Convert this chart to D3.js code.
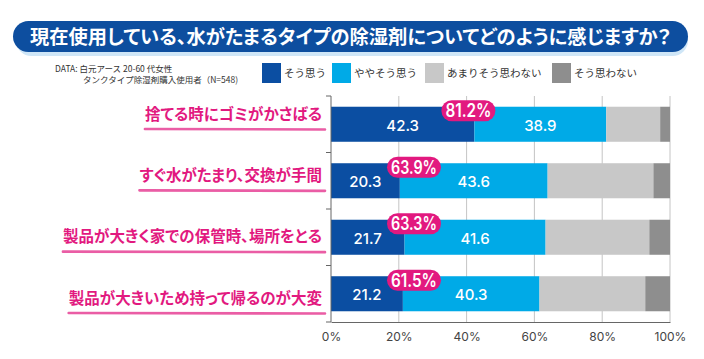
<!DOCTYPE html>
<html><head><meta charset="utf-8">
<script src="https://cdn.jsdelivr.net/npm/d3@7"></script>
<style>
body{margin:0;background:#fff;}
svg{display:block;font-family:"Noto Sans CJK JP","Noto Sans",sans-serif;}
.palt{font-feature-settings:"palt";}
</style></head>
<body>
<script>
const title = "現在使用している、水がたまるタイプの除湿剤についてどのように感じますか？";
const sourceLines = ["DATA: 白元アース 20-60 代女性", "タンクタイプ除湿剤購入使用者（N=548)"];
const categories = ["捨てる時にゴミがかさばる","すぐ水がたまり、交換が手間","製品が大きく家での保管時、場所をとる","製品が大きいため持って帰るのが大変"];
const seriesNames = ["そう思う","ややそう思う","あまりそう思わない","そう思わない"];
const s1 = [42.3, 20.3, 21.7, 21.2];
const s2 = [38.9, 43.6, 41.6, 40.3];
const s3 = [15.9, 31.2, 30.6, 31.2];
const s4 = [2.9, 4.9, 6.1, 7.3];
const totals = ["81.2%","63.9%","63.3%","61.5%"];
const xTicks = [0,20,40,60,80,100];
const colors = ["#0b4ea2","#00aae7","#c8c8c8","#8e8e8e"];
const magenta = "#e2197f";

const W=704,H=359;
const svg=d3.select("body").append("svg").attr("width",W).attr("height",H);

// title banner
svg.append("rect").attr("x",16).attr("y",25).attr("width",672).attr("height",31).attr("rx",15.5).attr("fill","#cfe6f7");
svg.append("rect").attr("x",13).attr("y",21).attr("width",675).attr("height",31).attr("rx",15.5).attr("fill","#0d4e9f");
svg.append("text").attr("class","palt").attr("x",30).attr("y",43.5).attr("fill","#fff").attr("font-size",19).attr("font-weight","bold")
  .attr("textLength",641).attr("lengthAdjust","spacingAndGlyphs").text(title);

// source
svg.append("text").attr("x",55).attr("y",72).attr("font-size",8.5).attr("fill","#333").text(sourceLines[0]);
svg.append("text").attr("x",83).attr("y",83).attr("font-size",8.5).attr("fill","#333").text(sourceLines[1]);

// legend
const legX=[262,332,425,552];
seriesNames.forEach((n,i)=>{
  svg.append("rect").attr("x",legX[i]).attr("y",63).attr("width",19).attr("height",20).attr("fill",colors[i]);
  svg.append("text").attr("x",legX[i]+22).attr("y",77).attr("font-size",10.5).attr("fill","#333").text(n);
});

const x=d3.scaleLinear().domain([0,100]).range([331,670]);
const y=d3.scaleBand().domain(categories).range([96,322]).paddingInner(0.38).paddingOuter(0.19);

// gridlines
svg.append("g").selectAll("line").data(xTicks.slice(1)).join("line")
  .attr("x1",d=>x(d)).attr("x2",d=>x(d)).attr("y1",96).attr("y2",322)
  .attr("stroke","#b5b5b5").attr("stroke-width",0.8);

// bars
const series=[s1,s2,s3,s4];
categories.forEach((c,i)=>{
  let acc=0;
  series.forEach((s,k)=>{
    svg.append("rect").attr("x",x(acc)).attr("y",y(c)).attr("width",x(acc+s[i])-x(acc)).attr("height",y.bandwidth()).attr("fill",colors[k]);
    if(k<2){
      svg.append("text").attr("x",x(acc+s[i]/2)).attr("y",y(c)+y.bandwidth()/2+6.5).attr("text-anchor","middle")
        .attr("fill","#fff").attr("font-size",15).attr("font-family","Inter,'Noto Sans',sans-serif").attr("font-weight",500).text(s[i].toFixed(1));
    }
    acc+=s[i];
  });
});

// axes
const ax=svg.append("g").attr("transform","translate(0,322)")
  .call(d3.axisBottom(x).tickValues(xTicks).tickFormat(d=>d+"%").tickSize(0).tickPadding(10));
ax.select(".domain").attr("stroke","#666");
ax.selectAll("text").attr("font-size",12).attr("fill","#444").attr("font-family","Inter,'Noto Sans',sans-serif");
svg.append("line").attr("x1",331).attr("x2",331).attr("y1",96).attr("y2",322).attr("stroke","#666");
const bounds=categories.map(c=>y(c)-y.step()*y.paddingInner()/2).concat([322]);
bounds[0]=96;
svg.append("g").selectAll("line").data(bounds).join("line")
  .attr("x1",326).attr("x2",331).attr("y1",d=>d).attr("y2",d=>d).attr("stroke","#666");

// category labels with underline
const ly=d3.scalePoint().domain(categories).range([114,298]);
categories.forEach(c=>{
  const t=svg.append("text").attr("class","palt").attr("x",322).attr("y",ly(c)+5.5).attr("text-anchor","end")
    .attr("fill",magenta).attr("font-size",15.5).attr("font-weight","bold").text(c);
  const bb=t.node().getBBox();
  svg.append("path").attr("d",`M${bb.x},${ly(c)+15} L325,${ly(c)+15.5}`)
    .attr("stroke",magenta).attr("stroke-width",2.6).attr("stroke-linecap","round").attr("opacity",0.7);
});

// total pills
categories.forEach((c,i)=>{
  const left=Math.max(x(s1[i])-33, x(0)+56);
  const cy=y(c)+4;
  const pw=54;
  svg.append("rect").attr("x",left).attr("y",cy-10.5).attr("width",pw).attr("height",21).attr("rx",10.5).attr("fill",magenta);
  svg.append("text").attr("x",left+4).attr("y",cy+6.5).attr("fill","#fff")
    .attr("font-size",18).attr("font-weight",600).attr("font-family","Inter,'Noto Sans',sans-serif")
    .attr("textLength",pw-8).attr("lengthAdjust","spacingAndGlyphs").text(totals[i]);
});
</script>
</body></html>
